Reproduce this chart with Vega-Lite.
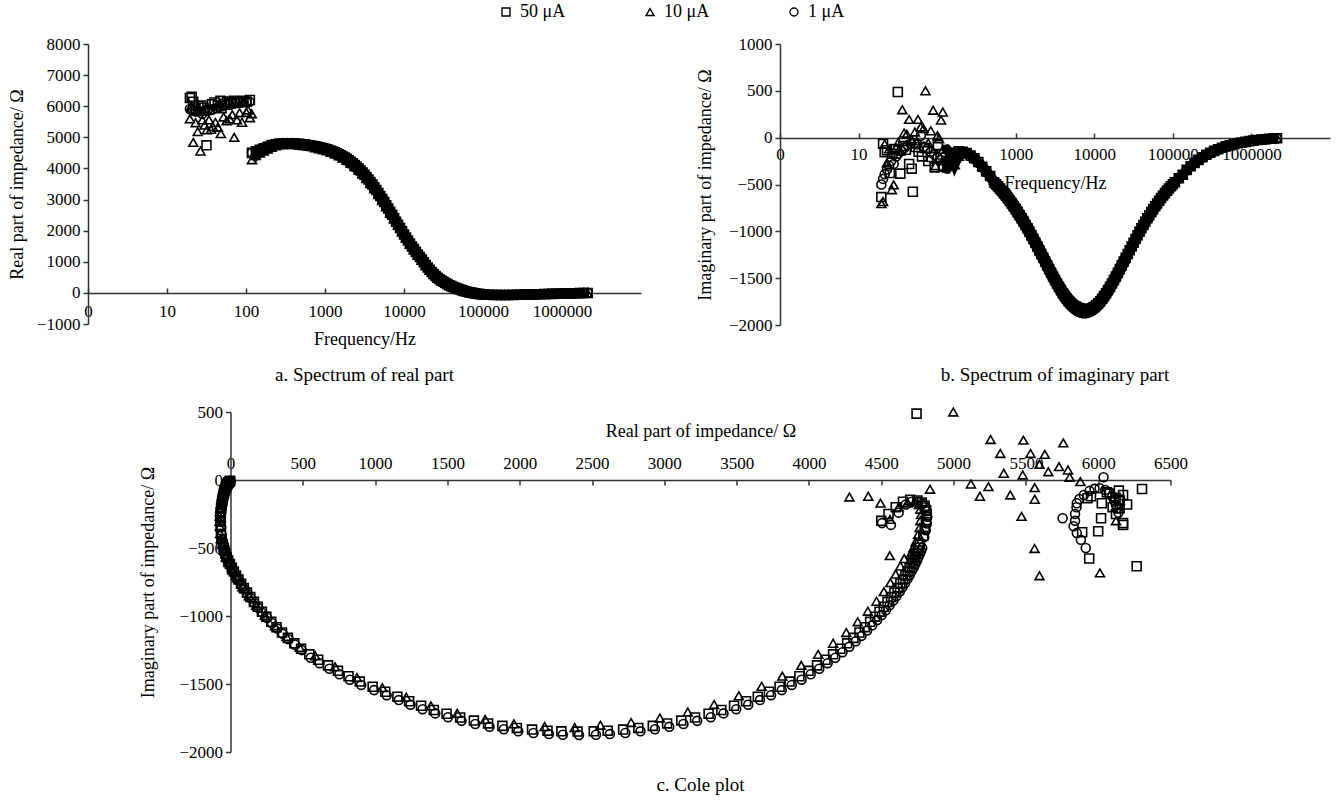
{
"$schema":"https://vega.github.io/schema/vega-lite/v6.json",
"padding":{"left":8,"top":3,"right":5,"bottom":5},
"background":"white",
"config":{
 "font":"Liberation Serif",
 "view":{"stroke":null},
 "axis":{"labelFont":"Liberation Serif","titleFont":"Liberation Serif","labelFontSize":17,"titleFontSize":18,"titleFontWeight":"normal","labelColor":"#000","titleColor":"#000","domainColor":"#333","tickColor":"#333","domainWidth":1.5,"tickWidth":1.5,"grid":false,"labelFlush":false,"labelOverlap":false,"tickSize":5,"labelPadding":3},
 "title":{"font":"Liberation Serif","fontSize":19,"fontWeight":"normal","color":"#000"}
},
"data":{"values":[
{"s":"50 μA","f":19.5,"re":6266,"im":-634},
{"s":"50 μA","f":20.5,"re":6303,"im":-66},
{"s":"50 μA","f":21.5,"re":6143,"im":-155},
{"s":"50 μA","f":23,"re":5926,"im":-134},
{"s":"50 μA","f":25,"re":6000,"im":-377},
{"s":"50 μA","f":27,"re":6025,"im":-171},
{"s":"50 μA","f":29,"re":5950,"im":-120},
{"s":"50 μA","f":31.6,"re":4744,"im":488},
{"s":"50 μA","f":34,"re":5889,"im":-384},
{"s":"50 μA","f":37,"re":6060,"im":-90},
{"s":"50 μA","f":40,"re":6120,"im":-130},
{"s":"50 μA","f":44,"re":6020,"im":-281},
{"s":"50 μA","f":47.5,"re":6172,"im":-331},
{"s":"50 μA","f":49,"re":5938,"im":-577},
{"s":"50 μA","f":53,"re":6080,"im":-100},
{"s":"50 μA","f":58,"re":6150,"im":-150},
{"s":"50 μA","f":64,"re":6100,"im":-200},
{"s":"50 μA","f":70,"re":6172,"im":-110},
{"s":"50 μA","f":77,"re":6123,"im":-250},
{"s":"50 μA","f":85,"re":6148,"im":-207},
{"s":"50 μA","f":93,"re":6172,"im":-317},
{"s":"50 μA","f":102,"re":6143,"im":-78},
{"s":"50 μA","f":112,"re":6200,"im":-180},
{"s":"50 μA","f":118.9,"re":4500,"im":-300},
{"s":"50 μA","f":133.4,"re":4550,"im":-250},
{"s":"50 μA","f":149.6,"re":4600,"im":-200},
{"s":"50 μA","f":167.9,"re":4650,"im":-160},
{"s":"50 μA","f":188.4,"re":4700,"im":-145},
{"s":"50 μA","f":211.4,"re":4750,"im":-150},
{"s":"50 μA","f":237.2,"re":4780,"im":-165},
{"s":"50 μA","f":266.1,"re":4800,"im":-190},
{"s":"50 μA","f":298.6,"re":4810,"im":-220},
{"s":"50 μA","f":335,"re":4812,"im":-260},
{"s":"50 μA","f":375.9,"re":4808,"im":-310},
{"s":"50 μA","f":421.8,"re":4800,"im":-360},
{"s":"50 μA","f":473.2,"re":4790,"im":-410},
{"s":"50 μA","f":531,"re":4768,"im":-475},
{"s":"50 μA","f":595.7,"re":4752,"im":-519},
{"s":"50 μA","f":668.4,"re":4732,"im":-567},
{"s":"50 μA","f":750,"re":4709,"im":-618},
{"s":"50 μA","f":841.5,"re":4682,"im":-673},
{"s":"50 μA","f":944.2,"re":4650,"im":-732},
{"s":"50 μA","f":1059,"re":4613,"im":-795},
{"s":"50 μA","f":1189,"re":4568,"im":-861},
{"s":"50 μA","f":1334,"re":4517,"im":-932},
{"s":"50 μA","f":1496,"re":4457,"im":-1005},
{"s":"50 μA","f":1679,"re":4387,"im":-1082},
{"s":"50 μA","f":1884,"re":4308,"im":-1161},
{"s":"50 μA","f":2114,"re":4217,"im":-1241},
{"s":"50 μA","f":2372,"re":4114,"im":-1322},
{"s":"50 μA","f":2661,"re":3997,"im":-1403},
{"s":"50 μA","f":2986,"re":3866,"im":-1482},
{"s":"50 μA","f":3350,"re":3723,"im":-1557},
{"s":"50 μA","f":3759,"re":3565,"im":-1627},
{"s":"50 μA","f":4218,"re":3394,"im":-1691},
{"s":"50 μA","f":4732,"re":3212,"im":-1746},
{"s":"50 μA","f":5310,"re":3019,"im":-1790},
{"s":"50 μA","f":5957,"re":2820,"im":-1823},
{"s":"50 μA","f":6684,"re":2608,"im":-1843},
{"s":"50 μA","f":7500,"re":2400,"im":-1850},
{"s":"50 μA","f":8415,"re":2192,"im":-1843},
{"s":"50 μA","f":9442,"re":1980,"im":-1823},
{"s":"50 μA","f":10594,"re":1781,"im":-1790},
{"s":"50 μA","f":11887,"re":1588,"im":-1746},
{"s":"50 μA","f":13337,"re":1406,"im":-1691},
{"s":"50 μA","f":14965,"re":1235,"im":-1627},
{"s":"50 μA","f":16791,"re":1070,"im":-1557},
{"s":"50 μA","f":18840,"re":894,"im":-1482},
{"s":"50 μA","f":21139,"re":743,"im":-1403},
{"s":"50 μA","f":23717,"re":606,"im":-1322},
{"s":"50 μA","f":26611,"re":488,"im":-1241},
{"s":"50 μA","f":29858,"re":397,"im":-1161},
{"s":"50 μA","f":33501,"re":318,"im":-1082},
{"s":"50 μA","f":37589,"re":248,"im":-1005},
{"s":"50 μA","f":42176,"re":188,"im":-932},
{"s":"50 μA","f":47322,"re":137,"im":-861},
{"s":"50 μA","f":53097,"re":92,"im":-795},
{"s":"50 μA","f":59574,"re":55,"im":-732},
{"s":"50 μA","f":66843,"re":23,"im":-673},
{"s":"50 μA","f":75000,"re":-4,"im":-618},
{"s":"50 μA","f":84151,"re":-27,"im":-567},
{"s":"50 μA","f":94418,"re":-42,"im":-519},
{"s":"50 μA","f":105938,"re":-53,"im":-475},
{"s":"50 μA","f":118863,"re":-62,"im":-434},
{"s":"50 μA","f":133367,"re":-66,"im":-397},
{"s":"50 μA","f":149643,"re":-68,"im":-344},
{"s":"50 μA","f":167901,"re":-70,"im":-305},
{"s":"50 μA","f":188390,"re":-70,"im":-269},
{"s":"50 μA","f":211377,"re":-68,"im":-237},
{"s":"50 μA","f":237171,"re":-65,"im":-208},
{"s":"50 μA","f":266107,"re":-62,"im":-183},
{"s":"50 μA","f":298582,"re":-58,"im":-160},
{"s":"50 μA","f":335019,"re":-55,"im":-141},
{"s":"50 μA","f":375890,"re":-52,"im":-123},
{"s":"50 μA","f":421757,"re":-48,"im":-107},
{"s":"50 μA","f":473225,"re":-45,"im":-93},
{"s":"50 μA","f":530977,"re":-42,"im":-81},
{"s":"50 μA","f":595761,"re":-38,"im":-70},
{"s":"50 μA","f":668450,"re":-35,"im":-60},
{"s":"50 μA","f":750000,"re":-32,"im":-52},
{"s":"50 μA","f":841500,"re":-28,"im":-45},
{"s":"50 μA","f":944194,"re":-25,"im":-37},
{"s":"50 μA","f":1059423,"re":-22,"im":-31},
{"s":"50 μA","f":1188673,"re":-19,"im":-25},
{"s":"50 μA","f":1333697,"re":-15,"im":-20},
{"s":"50 μA","f":1496419,"re":-12,"im":-16},
{"s":"50 μA","f":1678959,"re":-8,"im":-12},
{"s":"50 μA","f":1883889,"re":-5,"im":-9},
{"s":"50 μA","f":2113627,"re":-2,"im":-6},
{"s":"50 μA","f":562.5,"re":4760,"im":-497},
{"s":"50 μA","f":631,"re":4742,"im":-543},
{"s":"50 μA","f":708,"re":4721,"im":-592},
{"s":"50 μA","f":794.4,"re":4696,"im":-645},
{"s":"50 μA","f":891.4,"re":4667,"im":-702},
{"s":"50 μA","f":1000.1,"re":4632,"im":-763},
{"s":"50 μA","f":1121.7,"re":4591,"im":-828},
{"s":"50 μA","f":1259.4,"re":4543,"im":-896},
{"s":"50 μA","f":1413,"re":4488,"im":-968},
{"s":"50 μA","f":1584.6,"re":4423,"im":-1043},
{"s":"50 μA","f":1778.5,"re":4349,"im":-1121},
{"s":"50 μA","f":1995.6,"re":4264,"im":-1201},
{"s":"50 μA","f":2239.3,"re":4167,"im":-1282},
{"s":"50 μA","f":2512.5,"re":4056,"im":-1363},
{"s":"50 μA","f":2818.7,"re":3934,"im":-1443},
{"s":"50 μA","f":3162.9,"re":3797,"im":-1520},
{"s":"50 μA","f":3548.5,"re":3646,"im":-1593},
{"s":"50 μA","f":3981.7,"re":3482,"im":-1660},
{"s":"50 μA","f":4467.9,"re":3306,"im":-1719},
{"s":"50 μA","f":5012.4,"re":3117,"im":-1769},
{"s":"50 μA","f":5624.6,"re":2920,"im":-1808},
{"s":"50 μA","f":6310,"re":2715,"im":-1835},
{"s":"50 μA","f":7080,"re":2512,"im":-1848},
{"s":"50 μA","f":7944,"re":2288,"im":-1848},
{"s":"50 μA","f":8914,"re":2085,"im":-1835},
{"s":"50 μA","f":10001,"re":1880,"im":-1808},
{"s":"50 μA","f":11222,"re":1683,"im":-1769},
{"s":"50 μA","f":12591,"re":1494,"im":-1719},
{"s":"50 μA","f":14127,"re":1318,"im":-1660},
{"s":"50 μA","f":15852,"re":1154,"im":-1593},
{"s":"50 μA","f":17786,"re":983,"im":-1520},
{"s":"50 μA","f":19956,"re":816,"im":-1443},
{"s":"50 μA","f":22391,"re":674,"im":-1363},
{"s":"50 μA","f":25122,"re":545,"im":-1282},
{"s":"50 μA","f":28188,"re":441,"im":-1201},
{"s":"50 μA","f":31627,"re":356,"im":-1121},
{"s":"50 μA","f":35486,"re":282,"im":-1043},
{"s":"50 μA","f":39816,"re":217,"im":-968},
{"s":"50 μA","f":44675,"re":162,"im":-896},
{"s":"50 μA","f":50126,"re":114,"im":-828},
{"s":"50 μA","f":56243,"re":73,"im":-763},
{"s":"50 μA","f":63104,"re":38,"im":-702},
{"s":"50 μA","f":70804,"re":9,"im":-645},
{"s":"50 μA","f":79444,"re":-16,"im":-592},
{"s":"50 μA","f":89137,"re":-35,"im":-543},
{"s":"50 μA","f":100012,"re":-48,"im":-497},
{"s":"10 μA","f":19.5,"re":5594,"im":-704},
{"s":"10 μA","f":20.5,"re":6012,"im":-683},
{"s":"10 μA","f":21.5,"re":4837,"im":-68},
{"s":"10 μA","f":23,"re":5470,"im":-268},
{"s":"10 μA","f":24.5,"re":5182,"im":-120},
{"s":"10 μA","f":26.5,"re":4559,"im":-556},
{"s":"10 μA","f":28,"re":5560,"im":-504},
{"s":"10 μA","f":30,"re":5392,"im":-110},
{"s":"10 μA","f":32,"re":5241,"im":-49},
{"s":"10 μA","f":34,"re":5561,"im":-142},
{"s":"10 μA","f":36,"re":5256,"im":298},
{"s":"10 μA","f":38,"re":5347,"im":49},
{"s":"10 μA","f":41,"re":5478,"im":37},
{"s":"10 μA","f":44,"re":5323,"im":195},
{"s":"10 μA","f":48,"re":5120,"im":-30},
{"s":"10 μA","f":52,"re":5655,"im":61},
{"s":"10 μA","f":57,"re":5532,"im":195},
{"s":"10 μA","f":62,"re":5594,"im":115},
{"s":"10 μA","f":67,"re":5729,"im":98},
{"s":"10 μA","f":71,"re":4998,"im":500},
{"s":"10 μA","f":77,"re":5561,"im":-56},
{"s":"10 μA","f":83,"re":5791,"im":73},
{"s":"10 μA","f":89,"re":5483,"im":293},
{"s":"10 μA","f":95,"re":6123,"im":-300},
{"s":"10 μA","f":101,"re":5803,"im":20},
{"s":"10 μA","f":106,"re":5877,"im":-12},
{"s":"10 μA","f":112,"re":5631,"im":188},
{"s":"10 μA","f":118,"re":5759,"im":273},
{"s":"10 μA","f":118.9,"re":4280,"im":-125},
{"s":"10 μA","f":133.4,"re":4410,"im":-120},
{"s":"10 μA","f":149.6,"re":4495,"im":-170},
{"s":"10 μA","f":167.9,"re":4560,"im":-290},
{"s":"10 μA","f":188.4,"re":4620,"im":-200},
{"s":"10 μA","f":211.4,"re":4680,"im":-170},
{"s":"10 μA","f":237.2,"re":4730,"im":-160},
{"s":"10 μA","f":266.1,"re":4760,"im":-180},
{"s":"10 μA","f":298.6,"re":4770,"im":-215},
{"s":"10 μA","f":335,"re":4775,"im":-255},
{"s":"10 μA","f":375.9,"re":4770,"im":-300},
{"s":"10 μA","f":421.8,"re":4765,"im":-350},
{"s":"10 μA","f":473.2,"re":4755,"im":-400},
{"s":"10 μA","f":531,"re":4738,"im":-455},
{"s":"10 μA","f":595.7,"re":4722,"im":-499},
{"s":"10 μA","f":668.4,"re":4702,"im":-547},
{"s":"10 μA","f":750,"re":4659,"im":-578},
{"s":"10 μA","f":841.5,"re":4632,"im":-633},
{"s":"10 μA","f":944.2,"re":4600,"im":-692},
{"s":"10 μA","f":1059,"re":4563,"im":-755},
{"s":"10 μA","f":1189,"re":4518,"im":-821},
{"s":"10 μA","f":1334,"re":4467,"im":-892},
{"s":"10 μA","f":1496,"re":4407,"im":-965},
{"s":"10 μA","f":1679,"re":4337,"im":-1042},
{"s":"10 μA","f":1884,"re":4258,"im":-1121},
{"s":"10 μA","f":2114,"re":4167,"im":-1201},
{"s":"10 μA","f":2372,"re":4064,"im":-1282},
{"s":"10 μA","f":2661,"re":3947,"im":-1363},
{"s":"10 μA","f":2986,"re":3816,"im":-1442},
{"s":"10 μA","f":3350,"re":3673,"im":-1517},
{"s":"10 μA","f":3759,"re":3515,"im":-1587},
{"s":"10 μA","f":4218,"re":3344,"im":-1651},
{"s":"10 μA","f":4732,"re":3162,"im":-1706},
{"s":"10 μA","f":5310,"re":2969,"im":-1750},
{"s":"10 μA","f":5957,"re":2770,"im":-1783},
{"s":"10 μA","f":6684,"re":2558,"im":-1803},
{"s":"10 μA","f":7500,"re":2380,"im":-1820},
{"s":"10 μA","f":8415,"re":2172,"im":-1813},
{"s":"10 μA","f":9442,"re":1960,"im":-1793},
{"s":"10 μA","f":10594,"re":1761,"im":-1760},
{"s":"10 μA","f":11887,"re":1568,"im":-1716},
{"s":"10 μA","f":13337,"re":1386,"im":-1661},
{"s":"10 μA","f":14965,"re":1215,"im":-1597},
{"s":"10 μA","f":16791,"re":1050,"im":-1527},
{"s":"10 μA","f":18840,"re":874,"im":-1452},
{"s":"10 μA","f":21139,"re":723,"im":-1373},
{"s":"10 μA","f":23717,"re":586,"im":-1292},
{"s":"10 μA","f":26611,"re":478,"im":-1231},
{"s":"10 μA","f":29858,"re":387,"im":-1151},
{"s":"10 μA","f":33501,"re":308,"im":-1072},
{"s":"10 μA","f":37589,"re":238,"im":-995},
{"s":"10 μA","f":42176,"re":178,"im":-922},
{"s":"10 μA","f":47322,"re":127,"im":-851},
{"s":"10 μA","f":53097,"re":82,"im":-785},
{"s":"10 μA","f":59574,"re":45,"im":-722},
{"s":"10 μA","f":66843,"re":13,"im":-663},
{"s":"10 μA","f":75000,"re":-14,"im":-608},
{"s":"10 μA","f":84151,"re":-32,"im":-564},
{"s":"10 μA","f":94418,"re":-47,"im":-516},
{"s":"10 μA","f":105938,"re":-58,"im":-472},
{"s":"10 μA","f":118863,"re":-67,"im":-431},
{"s":"10 μA","f":133367,"re":-71,"im":-394},
{"s":"10 μA","f":149643,"re":-73,"im":-341},
{"s":"10 μA","f":167901,"re":-75,"im":-302},
{"s":"10 μA","f":188390,"re":-75,"im":-266},
{"s":"10 μA","f":211377,"re":-73,"im":-234},
{"s":"10 μA","f":237171,"re":-70,"im":-205},
{"s":"10 μA","f":266107,"re":-67,"im":-180},
{"s":"10 μA","f":298582,"re":-63,"im":-157},
{"s":"10 μA","f":335019,"re":-60,"im":-138},
{"s":"10 μA","f":375890,"re":-57,"im":-120},
{"s":"10 μA","f":421757,"re":-53,"im":-104},
{"s":"10 μA","f":473225,"re":-50,"im":-90},
{"s":"10 μA","f":530977,"re":-47,"im":-78},
{"s":"10 μA","f":595761,"re":-43,"im":-67},
{"s":"10 μA","f":668450,"re":-40,"im":-57},
{"s":"10 μA","f":750000,"re":-37,"im":-49},
{"s":"10 μA","f":841500,"re":-33,"im":-42},
{"s":"10 μA","f":944194,"re":-30,"im":-34},
{"s":"10 μA","f":1059423,"re":-27,"im":-28},
{"s":"10 μA","f":1188673,"re":-24,"im":-22},
{"s":"10 μA","f":1333697,"re":-20,"im":-17},
{"s":"10 μA","f":1496419,"re":-17,"im":-13},
{"s":"10 μA","f":1678959,"re":-13,"im":-9},
{"s":"10 μA","f":1883889,"re":-10,"im":-6},
{"s":"10 μA","f":2113627,"re":-7,"im":-3},
{"s":"1 μA","f":19.5,"re":5914,"im":-500},
{"s":"1 μA","f":20.5,"re":5880,"im":-440},
{"s":"1 μA","f":21.5,"re":5852,"im":-390},
{"s":"1 μA","f":23,"re":5830,"im":-340},
{"s":"1 μA","f":24.5,"re":5840,"im":-300},
{"s":"1 μA","f":26,"re":5840,"im":-250},
{"s":"1 μA","f":28,"re":5754,"im":-281},
{"s":"1 μA","f":30,"re":5850,"im":-200},
{"s":"1 μA","f":32,"re":5852,"im":-171},
{"s":"1 μA","f":35,"re":5870,"im":-140},
{"s":"1 μA","f":38,"re":5901,"im":-110},
{"s":"1 μA","f":42,"re":5940,"im":-80},
{"s":"1 μA","f":46,"re":5975,"im":-65},
{"s":"1 μA","f":51,"re":6010,"im":-60},
{"s":"1 μA","f":56,"re":6049,"im":-73},
{"s":"1 μA","f":62,"re":6037,"im":20},
{"s":"1 μA","f":68,"re":6075,"im":-95},
{"s":"1 μA","f":75,"re":6098,"im":-122},
{"s":"1 μA","f":83,"re":6110,"im":-150},
{"s":"1 μA","f":92,"re":6123,"im":-183},
{"s":"1 μA","f":101,"re":6130,"im":-210},
{"s":"1 μA","f":111,"re":6140,"im":-240},
{"s":"1 μA","f":118.9,"re":4505,"im":-317},
{"s":"1 μA","f":133.4,"re":4567,"im":-330},
{"s":"1 μA","f":149.6,"re":4620,"im":-240},
{"s":"1 μA","f":167.9,"re":4670,"im":-180},
{"s":"1 μA","f":188.4,"re":4710,"im":-160},
{"s":"1 μA","f":211.4,"re":4755,"im":-160},
{"s":"1 μA","f":237.2,"re":4785,"im":-175},
{"s":"1 μA","f":266.1,"re":4805,"im":-200},
{"s":"1 μA","f":298.6,"re":4815,"im":-230},
{"s":"1 μA","f":335,"re":4818,"im":-270},
{"s":"1 μA","f":375.9,"re":4815,"im":-320},
{"s":"1 μA","f":421.8,"re":4808,"im":-370},
{"s":"1 μA","f":473.2,"re":4797,"im":-420},
{"s":"1 μA","f":531,"re":4783,"im":-500},
{"s":"1 μA","f":595.7,"re":4767,"im":-544},
{"s":"1 μA","f":668.4,"re":4747,"im":-592},
{"s":"1 μA","f":750,"re":4724,"im":-643},
{"s":"1 μA","f":841.5,"re":4697,"im":-698},
{"s":"1 μA","f":944.2,"re":4665,"im":-757},
{"s":"1 μA","f":1059,"re":4628,"im":-820},
{"s":"1 μA","f":1189,"re":4583,"im":-886},
{"s":"1 μA","f":1334,"re":4532,"im":-957},
{"s":"1 μA","f":1496,"re":4472,"im":-1030},
{"s":"1 μA","f":1679,"re":4402,"im":-1107},
{"s":"1 μA","f":1884,"re":4323,"im":-1186},
{"s":"1 μA","f":2114,"re":4232,"im":-1266},
{"s":"1 μA","f":2372,"re":4129,"im":-1347},
{"s":"1 μA","f":2661,"re":4012,"im":-1428},
{"s":"1 μA","f":2986,"re":3881,"im":-1507},
{"s":"1 μA","f":3350,"re":3738,"im":-1582},
{"s":"1 μA","f":3759,"re":3580,"im":-1652},
{"s":"1 μA","f":4218,"re":3409,"im":-1716},
{"s":"1 μA","f":4732,"re":3227,"im":-1771},
{"s":"1 μA","f":5310,"re":3034,"im":-1815},
{"s":"1 μA","f":5957,"re":2835,"im":-1848},
{"s":"1 μA","f":6684,"re":2623,"im":-1868},
{"s":"1 μA","f":7500,"re":2410,"im":-1875},
{"s":"1 μA","f":8415,"re":2202,"im":-1868},
{"s":"1 μA","f":9442,"re":1990,"im":-1848},
{"s":"1 μA","f":10594,"re":1791,"im":-1815},
{"s":"1 μA","f":11887,"re":1598,"im":-1771},
{"s":"1 μA","f":13337,"re":1416,"im":-1716},
{"s":"1 μA","f":14965,"re":1245,"im":-1652},
{"s":"1 μA","f":16791,"re":1080,"im":-1582},
{"s":"1 μA","f":18840,"re":904,"im":-1507},
{"s":"1 μA","f":21139,"re":753,"im":-1428},
{"s":"1 μA","f":23717,"re":616,"im":-1347},
{"s":"1 μA","f":26611,"re":493,"im":-1251},
{"s":"1 μA","f":29858,"re":402,"im":-1171},
{"s":"1 μA","f":33501,"re":323,"im":-1092},
{"s":"1 μA","f":37589,"re":253,"im":-1015},
{"s":"1 μA","f":42176,"re":193,"im":-942},
{"s":"1 μA","f":47322,"re":142,"im":-871},
{"s":"1 μA","f":53097,"re":97,"im":-805},
{"s":"1 μA","f":59574,"re":60,"im":-742},
{"s":"1 μA","f":66843,"re":28,"im":-683},
{"s":"1 μA","f":75000,"re":1,"im":-628},
{"s":"1 μA","f":84151,"re":-23,"im":-570},
{"s":"1 μA","f":94418,"re":-38,"im":-522},
{"s":"1 μA","f":105938,"re":-49,"im":-478},
{"s":"1 μA","f":118863,"re":-58,"im":-437},
{"s":"1 μA","f":133367,"re":-62,"im":-400},
{"s":"1 μA","f":149643,"re":-64,"im":-347},
{"s":"1 μA","f":167901,"re":-66,"im":-308},
{"s":"1 μA","f":188390,"re":-66,"im":-272},
{"s":"1 μA","f":211377,"re":-64,"im":-240},
{"s":"1 μA","f":237171,"re":-61,"im":-211},
{"s":"1 μA","f":266107,"re":-58,"im":-186},
{"s":"1 μA","f":298582,"re":-54,"im":-163},
{"s":"1 μA","f":335019,"re":-51,"im":-144},
{"s":"1 μA","f":375890,"re":-48,"im":-126},
{"s":"1 μA","f":421757,"re":-44,"im":-110},
{"s":"1 μA","f":473225,"re":-41,"im":-96},
{"s":"1 μA","f":530977,"re":-38,"im":-84},
{"s":"1 μA","f":595761,"re":-34,"im":-73},
{"s":"1 μA","f":668450,"re":-31,"im":-63},
{"s":"1 μA","f":750000,"re":-28,"im":-55},
{"s":"1 μA","f":841500,"re":-24,"im":-48},
{"s":"1 μA","f":944194,"re":-21,"im":-40},
{"s":"1 μA","f":1059423,"re":-18,"im":-34},
{"s":"1 μA","f":1188673,"re":-15,"im":-28},
{"s":"1 μA","f":1333697,"re":-11,"im":-23},
{"s":"1 μA","f":1496419,"re":-8,"im":-19},
{"s":"1 μA","f":1678959,"re":-4,"im":-15},
{"s":"1 μA","f":1883889,"re":-1,"im":-12},
{"s":"1 μA","f":2113627,"re":2,"im":-9},
{"s":"1 μA","f":562.5,"re":4775,"im":-522},
{"s":"1 μA","f":631,"re":4757,"im":-568},
{"s":"1 μA","f":708,"re":4736,"im":-617},
{"s":"1 μA","f":794.4,"re":4711,"im":-670},
{"s":"1 μA","f":891.4,"re":4682,"im":-727},
{"s":"1 μA","f":1000.1,"re":4647,"im":-788},
{"s":"1 μA","f":1121.7,"re":4606,"im":-853},
{"s":"1 μA","f":1259.4,"re":4558,"im":-921},
{"s":"1 μA","f":1413,"re":4503,"im":-993},
{"s":"1 μA","f":1584.6,"re":4438,"im":-1068},
{"s":"1 μA","f":1778.5,"re":4364,"im":-1146},
{"s":"1 μA","f":1995.6,"re":4279,"im":-1226},
{"s":"1 μA","f":2239.3,"re":4182,"im":-1307},
{"s":"1 μA","f":2512.5,"re":4071,"im":-1388},
{"s":"1 μA","f":2818.7,"re":3949,"im":-1468},
{"s":"1 μA","f":3162.9,"re":3812,"im":-1545},
{"s":"1 μA","f":3548.5,"re":3661,"im":-1618},
{"s":"1 μA","f":3981.7,"re":3497,"im":-1685},
{"s":"1 μA","f":4467.9,"re":3321,"im":-1744},
{"s":"1 μA","f":5012.4,"re":3132,"im":-1794},
{"s":"1 μA","f":5624.6,"re":2935,"im":-1833},
{"s":"1 μA","f":6310,"re":2730,"im":-1860},
{"s":"1 μA","f":7080,"re":2527,"im":-1873},
{"s":"1 μA","f":7944,"re":2298,"im":-1873},
{"s":"1 μA","f":8914,"re":2095,"im":-1860},
{"s":"1 μA","f":10001,"re":1890,"im":-1833},
{"s":"1 μA","f":11222,"re":1693,"im":-1794},
{"s":"1 μA","f":12591,"re":1504,"im":-1744},
{"s":"1 μA","f":14127,"re":1328,"im":-1685},
{"s":"1 μA","f":15852,"re":1164,"im":-1618},
{"s":"1 μA","f":17786,"re":993,"im":-1545},
{"s":"1 μA","f":19956,"re":826,"im":-1468},
{"s":"1 μA","f":22391,"re":684,"im":-1388},
{"s":"1 μA","f":25122,"re":555,"im":-1307},
{"s":"1 μA","f":28188,"re":446,"im":-1211},
{"s":"1 μA","f":31627,"re":361,"im":-1131},
{"s":"1 μA","f":35486,"re":287,"im":-1053},
{"s":"1 μA","f":39816,"re":222,"im":-978},
{"s":"1 μA","f":44675,"re":167,"im":-906},
{"s":"1 μA","f":50126,"re":119,"im":-838},
{"s":"1 μA","f":56243,"re":78,"im":-773},
{"s":"1 μA","f":63104,"re":43,"im":-712},
{"s":"1 μA","f":70804,"re":14,"im":-655},
{"s":"1 μA","f":79444,"re":-11,"im":-602},
{"s":"1 μA","f":89137,"re":-31,"im":-546},
{"s":"1 μA","f":100012,"re":-44,"im":-500}
]},
"resolve":{"scale":{"shape":"shared"},"legend":{"shape":"shared"}},
"spacing":18,
"center":true,
"vconcat":[
 {
  "hconcat":[
   {
    "width":553,"height":280,
    "title":{"text":"a. Spectrum of real part","orient":"bottom","offset":18},
    "encoding":{
     "x":{"field":"f","type":"quantitative","scale":{"type":"log","domain":[1,10000000],"nice":false},
      "axis":{"title":"Frequency/Hz","values":[1,10,100,1000,10000,100000,1000000],"labelExpr":"datum.value == 1 ? '0' : format(datum.value, 'd')","offset":-31,"tickSize":-5,"labelPadding":15,"titlePadding":11}},
     "y":{"field":"re","type":"quantitative","scale":{"domain":[-1000,8000],"nice":false,"zero":false},
      "axis":{"title":"Real part of impedance/ Ω","values":[-1000,0,1000,2000,3000,4000,5000,6000,7000,8000],"format":"d","titlePadding":10}}
    },
    "layer":[
     {"transform":[{"filter":"datum.f > 118.5"}],"mark":{"type":"line","color":"black","strokeWidth":9},"encoding":{"detail":{"field":"s"},"order":{"field":"f","type":"quantitative"}}},
     {"mark":{"type":"point","filled":false,"size":80,"strokeWidth":1.6,"color":"black","opacity":1},
      "encoding":{"shape":{"field":"s","type":"nominal","scale":{"domain":["50 μA","10 μA","1 μA"],"range":["square","triangle-up","circle"]},
      "legend":{"title":null,"orient":"none","legendX":409,"legendY":-41,"direction":"horizontal","symbolSize":64,"symbolStrokeWidth":1.4,"symbolStrokeColor":"black","labelFontSize":18,"labelFont":"Liberation Serif","labelColor":"black","columnPadding":75,"labelOffset":5}}}}
    ]
   },
   {
    "width":550,"height":281,
    "title":{"text":"b. Spectrum of imaginary part","orient":"bottom","offset":33},
    "encoding":{
     "x":{"field":"f","type":"quantitative","scale":{"type":"log","domain":[1,10000000],"nice":false},
      "axis":{"title":"Frequency/Hz","values":[1,10,100,1000,10000,100000,1000000],"labelExpr":"datum.value == 1 ? '0' : datum.value == 100 ? '' : format(datum.value, 'd')","offset":-187,"tickSize":-5,"labelPadding":13,"titlePadding":12}},
     "y":{"field":"im","type":"quantitative","scale":{"domain":[-2000,1000],"nice":false,"zero":false},
      "axis":{"title":"Imaginary part of impedance/ Ω","values":[-2000,-1500,-1000,-500,0,500,1000],"format":"d","titlePadding":14}}
    },
    "layer":[
     {"transform":[{"filter":"datum.f > 118.5"}],"mark":{"type":"line","color":"black","strokeWidth":9},"encoding":{"detail":{"field":"s"},"order":{"field":"f","type":"quantitative"}}},
     {"mark":{"type":"point","filled":false,"size":80,"strokeWidth":1.6,"color":"black","opacity":1},
      "encoding":{"shape":{"field":"s","type":"nominal","scale":{"domain":["50 μA","10 μA","1 μA"],"range":["square","triangle-up","circle"]},
      "legend":{"title":null,"orient":"none","legendX":409,"legendY":-41,"direction":"horizontal","symbolSize":64,"symbolStrokeWidth":1.4,"symbolStrokeColor":"black","labelFontSize":18,"labelFont":"Liberation Serif","labelColor":"black","columnPadding":75,"labelOffset":5}}}}
    ]
   }
  ],
  "spacing":55,
  "resolve":{"scale":{"shape":"shared"},"legend":{"shape":"shared"}}
 },
 {
  "width":940,"height":340,
  "title":{"text":"c. Cole plot","orient":"bottom","offset":16},
  "mark":{"type":"point","filled":false,"size":80,"strokeWidth":1.6,"color":"black","opacity":1},
  "encoding":{
   "x":{"field":"re","type":"quantitative","scale":{"domain":[0,6500],"nice":false,"zero":false},
    "axis":{"orient":"top","title":"Real part of impedance/ Ω","values":[0,500,1000,1500,2000,2500,3000,3500,4000,4500,5000,5500,6000,6500],"format":"d","offset":-68,"tickSize":-5,"labelPadding":13,"titlePadding":14}},
   "y":{"field":"im","type":"quantitative","scale":{"domain":[-2000,500],"nice":false,"zero":false},
    "axis":{"title":"Imaginary part of impedance/ Ω","values":[-2000,-1500,-1000,-500,0,500],"format":"d","titlePadding":21}},
   "shape":{"field":"s","type":"nominal","scale":{"domain":["50 μA","10 μA","1 μA"],"range":["square","triangle-up","circle"]},
    "legend":{"title":null,"orient":"none","legendX":409,"legendY":-41,"direction":"horizontal","symbolSize":64,"symbolStrokeWidth":1.4,"symbolStrokeColor":"black","labelFontSize":18,"labelFont":"Liberation Serif","labelColor":"black","columnPadding":75,"labelOffset":5}}
  }
 }
]
}
